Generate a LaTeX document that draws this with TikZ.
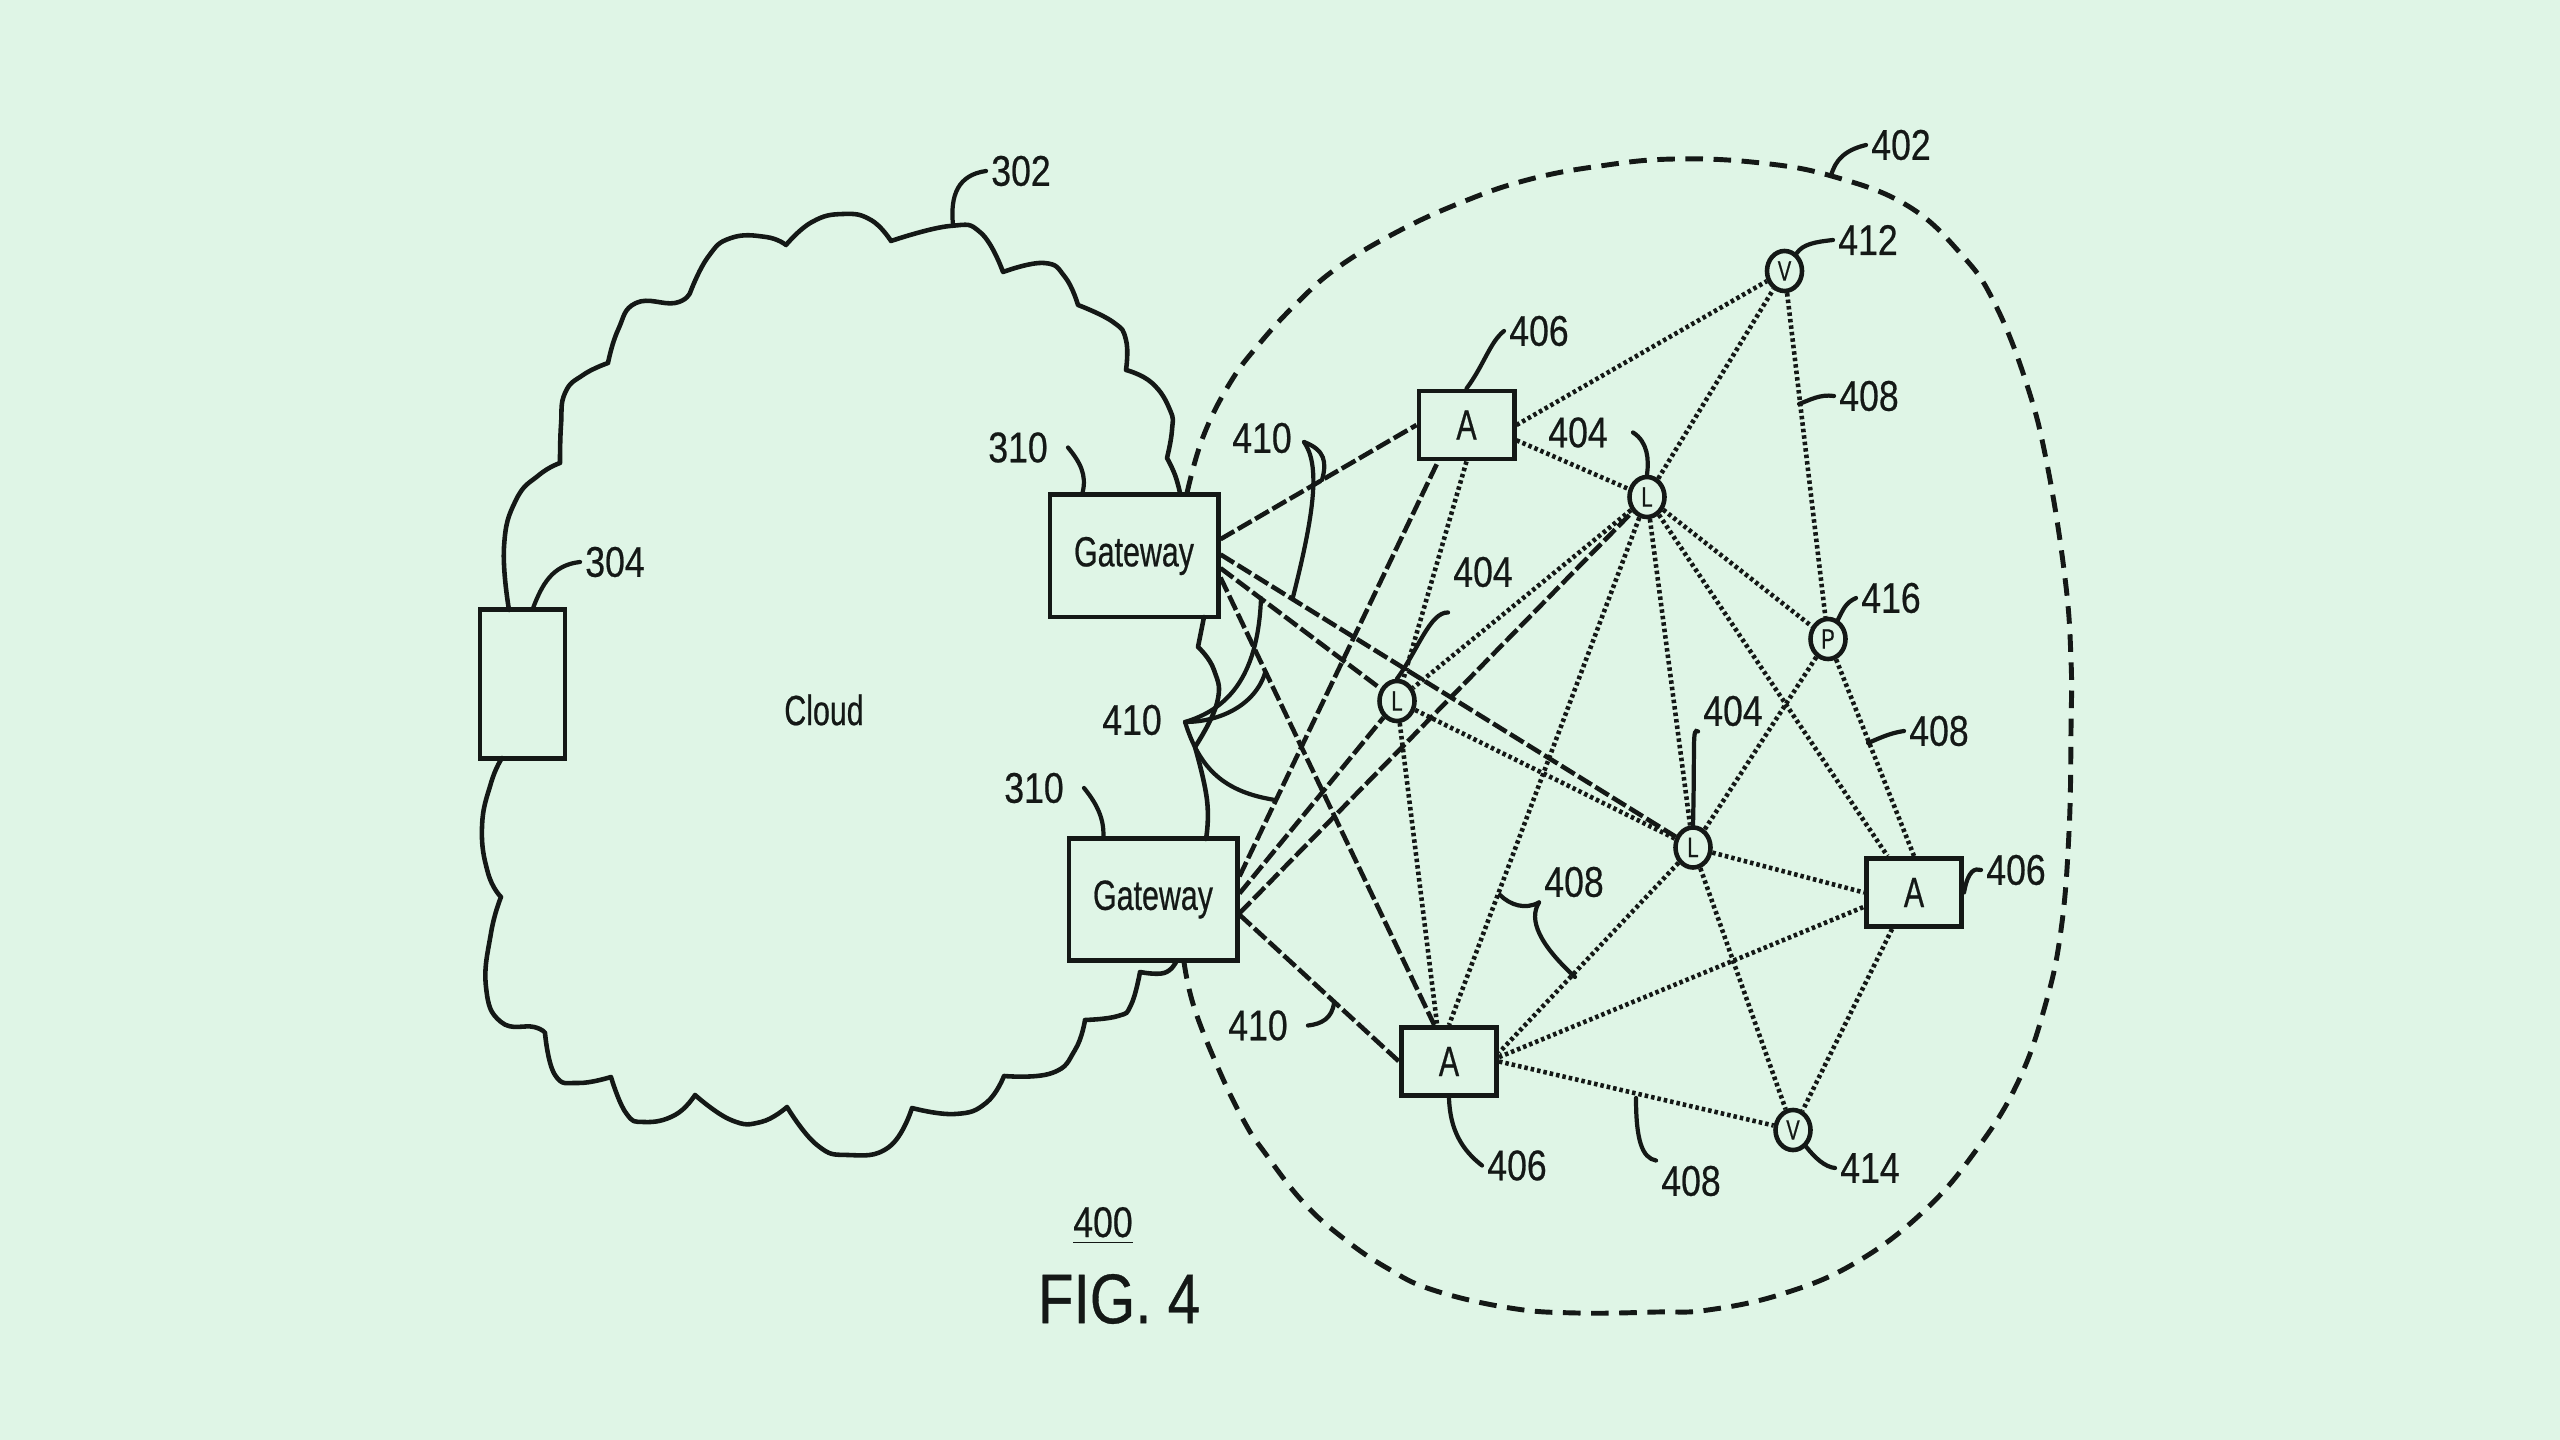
\documentclass[tikz,border=0pt]{standalone}
\usepackage{fontspec}
\setmainfont[FakeStretch=0.83, FakeBold=0.5]{Liberation Sans}
\newfontfamily\narrowfont[FakeStretch=0.72, FakeBold=0.5]{Liberation Sans}
\usetikzlibrary{shapes.geometric}
\definecolor{paper}{RGB}{223,245,230}
\definecolor{ink}{RGB}{20,24,22}
\tikzstyle{box}=[draw=ink, line width=1.4pt, inner sep=0, text=ink, font=\narrowfont\fontsize{12}{14}\selectfont]
\tikzstyle{gateway}=[box, minimum width=1.68cm, minimum height=1.22cm]
\tikzstyle{access}=[box, minimum width=0.95cm, minimum height=0.68cm]
\tikzstyle{device}=[box, minimum width=0.85cm, minimum height=1.48cm]
\tikzstyle{station}=[draw=ink, ellipse, line width=1.3pt, inner sep=0, minimum width=0.35cm, minimum height=0.4cm, text=ink, font=\narrowfont\fontsize{8}{9}\selectfont]
\tikzstyle{ref}=[inner sep=0, outer sep=1.5pt, text=ink, font=\fontsize{12.2}{14}\selectfont]
\tikzstyle{uplink}=[draw=ink, line width=1.3pt, dash pattern=on 4.5pt off 1.2pt]
\tikzstyle{mesh}=[draw=ink, line width=1.3pt, dash pattern=on 1pt off 0.85pt]
\tikzstyle{leader}=[draw=ink, line width=1.2pt, line cap=round]
\tikzstyle{cloud outline}=[draw=ink, line width=1.3pt, line cap=round, line join=round]
\tikzstyle{zone}=[draw=ink, line width=1.4pt, dash pattern=on 5pt off 3pt]

\begin{document}
\begin{tikzpicture}[x=0.01cm, y=-0.01cm]
      \fill[paper] (0,0) rectangle (2560,1440);
      \useasboundingbox (0,0) rectangle (2560,1440);

      % boxes and stations
      \node[device] (device) at (522.5, 684) {};
      \node[gateway] (gateway_top) at (1134, 556) {Gateway};
      \node[gateway] (gateway_bottom) at (1153, 899.5) {Gateway};
      \node[access] (access_top) at (1466.5, 425) {A};
      \node[access] (access_bottom) at (1449, 1061.5) {A};
      \node[access] (access_right) at (1914, 892.5) {A};
      \node[station] (leaf_top) at (1647, 497) {L};
      \node[station] (leaf_left) at (1397, 701) {L};
      \node[station] (leaf_right) at (1693, 847.5) {L};
      \node[station] (voice_top) at (1784.5, 271) {V};
      \node[station] (voice_bottom) at (1793, 1130) {V};
      \node[station] (power) at (1828, 639) {P};

      % cloud
      \node[box, draw=none] (cloud) at (824, 710) {Cloud};
      \draw[cloud outline] plot[smooth, tension=0.8] coordinates {(509,610) (504,547) (516,500) (539,475) (560,463)}
        plot[smooth, tension=0.8] coordinates {(560,463) (561,425) (565,393) (583,375) (608,363)}
        plot[smooth, tension=0.8] coordinates {(608,363) (618,330) (636,303) (675,303) (690,293)}
        plot[smooth, tension=0.8] coordinates {(690,293) (708,257) (731,238) (766,237) (786,245)}
        plot[smooth, tension=0.8] coordinates {(786,245) (812,222) (843,214) (871,220) (891,241)}
        plot[smooth, tension=0.8] coordinates {(891,241) (950,226) (981,233) (1003,272)}
        plot[smooth, tension=0.8] coordinates {(1003,272) (1044,263) (1065,277) (1078,305)}
        plot[smooth, tension=0.8] coordinates {(1078,305) (1113,322) (1126,340) (1126,370)}
        plot[smooth, tension=0.8] coordinates {(1126,370) (1152,383) (1170,410) (1172,430) (1167,458)}
        plot[smooth, tension=0.8] coordinates {(1167,458) (1175,475) (1180,493)};
      \draw[cloud outline] plot[smooth, tension=0.8] coordinates {(1204,617) (1198,647)}
        plot[smooth, tension=0.8] coordinates {(1198,647) (1214,670) (1217,703) (1195,747)}
        plot[smooth, tension=0.8] coordinates {(1195,747) (1207,800) (1206,839)};
      \draw[cloud outline] plot[smooth, tension=0.8] coordinates {(1176,962) (1164,973) (1140,972)}
        plot[smooth, tension=0.8] coordinates {(1140,972) (1131,1005) (1118,1016) (1085,1020)}
        plot[smooth, tension=0.8] coordinates {(1085,1020) (1075,1050) (1052,1073) (1004,1076)}
        plot[smooth, tension=0.8] coordinates {(1004,1076) (986,1103) (955,1114) (912,1108)}
        plot[smooth, tension=0.8] coordinates {(912,1108) (889,1147) (848,1155) (817,1145) (787,1107)}
        plot[smooth, tension=0.8] coordinates {(787,1107) (761,1122) (731,1120) (695,1095)}
        plot[smooth, tension=0.8] coordinates {(695,1095) (675,1115) (644,1122) (626,1113) (611,1077)}
        plot[smooth, tension=0.8] coordinates {(611,1077) (578,1083) (555,1075) (545,1033)}
        plot[smooth, tension=0.8] coordinates {(545,1033) (534,1027) (501,1022) (486,987) (491,933) (501,897)}
        plot[smooth, tension=0.8] coordinates {(501,897) (488,873) (482,827) (491,783) (502,758)};

      % zone
      \draw[zone] plot[smooth, tension=0.7] coordinates {(1187,493) (1203,437) (1230,383) (1260,343) (1297,303) (1337,268) (1395,233) (1460,203) (1527,180) (1600,166) (1675,159) (1761,163) (1835,177) (1908,206) (1961,254) (1994,302) (2026,382) (2047,464) (2065,578) (2071,660) (2071,729) (2069,832) (2061,930) (2045,1006) (2018,1082) (1977,1149) (1924,1211) (1855,1263) (1782,1294) (1708,1310) (1657,1312) (1577,1313) (1510,1308) (1433,1290) (1387,1268) (1343,1238) (1303,1202) (1265,1153) (1245,1123) (1219,1070) (1194,1007) (1184,962)};

      % gateway links
      \draw[uplink] (gateway_top.11) to (access_top.west);
      \draw[uplink] (gateway_top.1) to (leaf_right);
      \draw[uplink] (gateway_top.-8) to (leaf_left);
      \draw[uplink] (gateway_top.-14) to (access_bottom.112);
      \draw[uplink] (gateway_bottom.15) to (access_top.232);
      \draw[uplink] (gateway_bottom.4) to (leaf_left);
      \draw[uplink] (gateway_bottom.-9) to (leaf_top);
      \draw[uplink] (gateway_bottom.-10) to (access_bottom.west);

      % mesh links
      \draw[mesh] (access_top.east) to (voice_top);
      \draw[mesh] (access_top.-17) to (leaf_top);
      \draw[mesh] (access_top.south) to (leaf_left);
      \draw[mesh] (leaf_left) to (access_bottom.108);
      \draw[mesh] (leaf_top) to (leaf_left);
      \draw[mesh] (leaf_top) to (access_bottom.north);
      \draw[mesh] (leaf_top) to (leaf_right);
      \draw[mesh] (leaf_top) to (access_right.126);
      \draw[mesh] (leaf_top) to (power);
      \draw[mesh] (leaf_top) to (voice_top);
      \draw[mesh] (voice_top) to (power);
      \draw[mesh] (power) to (leaf_right);
      \draw[mesh] (power) to (access_right.north);
      \draw[mesh] (leaf_left) to (leaf_right);
      \draw[mesh] (leaf_right) to (access_right.west);
      \draw[mesh] (leaf_right) to (access_bottom.10);
      \draw[mesh] (leaf_right) to (voice_bottom);
      \draw[mesh] (access_right.239) to (voice_bottom);
      \draw[mesh] (access_bottom.5) to (access_right.196);
      \draw[mesh] (access_bottom.east) to (voice_bottom);

      % reference numerals
      \node[ref] (ref_cloud) at (1021, 171) {302};
      \node[ref] (ref_device) at (615, 562) {304};
      \node[ref] (ref_gateway_top) at (1018, 447.5) {310};
      \node[ref] (ref_gateway_bottom) at (1034, 788) {310};
      \node[ref] (ref_uplink_a) at (1262, 438) {410};
      \node[ref] (ref_uplink_b) at (1132, 720) {410};
      \node[ref] (ref_uplink_c) at (1258, 1025.5) {410};
      \node[ref] (ref_leaf_top) at (1578, 432.5) {404};
      \node[ref] (ref_leaf_left) at (1483, 572) {404};
      \node[ref] (ref_leaf_right) at (1733, 711) {404};
      \node[ref] (ref_access_top) at (1539, 331) {406};
      \node[ref] (ref_access_right) at (2016, 870) {406};
      \node[ref] (ref_access_bottom) at (1517, 1165.5) {406};
      \node[ref] (ref_mesh_a) at (1869, 396) {408};
      \node[ref] (ref_mesh_b) at (1939, 731) {408};
      \node[ref] (ref_mesh_c) at (1574, 882) {408};
      \node[ref] (ref_mesh_d) at (1691, 1181) {408};
      \node[ref] (ref_zone) at (1901, 145) {402};
      \node[ref] (ref_voice_top) at (1868, 240) {412};
      \node[ref] (ref_voice_bottom) at (1870, 1168) {414};
      \node[ref] (ref_power) at (1891, 598) {416};
      \node[ref, anchor=base] (ref_system) at (1103, 1237) {\underline{400}};
      \node[ref, font=\fontsize{20}{24}\selectfont] (fig_title) at (1119, 1299) {FIG. 4};

      % free ends of the leaders
      \coordinate (on_cloud) at (953, 225);
      \coordinate (on_zone) at (1831, 176);
      \coordinate (on_link_a1) at (1322, 480);
      \coordinate (on_link_a2) at (1293, 597);
      \coordinate (on_link_b1) at (1261, 598);
      \coordinate (on_link_b2) at (1265, 673);
      \coordinate (on_link_b3) at (1275, 800);
      \coordinate (on_link_c) at (1334, 1003);
      \coordinate (on_mesh_a) at (1799, 404);
      \coordinate (on_mesh_b) at (1868, 743);
      \coordinate (on_mesh_c1) at (1500, 895);
      \coordinate (on_mesh_c2) at (1575, 977);
      \coordinate (on_mesh_d) at (1636, 1098);
      \coordinate (start_a) at (1304, 442);
      \coordinate (start_b) at (1185, 722);

      % leaders
      \draw[leader] (ref_cloud.west) .. controls (958,175) and (950,195) .. (on_cloud);
      \draw[leader] (ref_device.west) .. controls (552,565) and (542,585) .. (device.82);
      \draw[leader] ([xshift=0.15cm]ref_gateway_top.east) .. controls (1080,462) and (1087,475) .. (gateway_top.129);
      \draw[leader] ([xshift=0.15cm]ref_gateway_bottom.east) .. controls (1098,805) and (1104,820) .. (gateway_bottom.128);
      \draw[leader] (start_a) .. controls (1325,450) and (1327,462) .. (on_link_a1);
      \draw[leader] (start_a) .. controls (1320,465) and (1315,510) .. (on_link_a2);
      \draw[leader] (start_b) .. controls (1225,710) and (1258,680) .. (on_link_b1);
      \draw[leader] (start_b) .. controls (1220,722) and (1255,705) .. (on_link_b2);
      \draw[leader] (start_b) .. controls (1200,770) and (1225,792) .. (on_link_b3);
      \draw[leader] ([xshift=0.15cm]ref_uplink_c.east) .. controls (1322,1024) and (1332,1018) .. (on_link_c);
      \draw[leader] ([xshift=0.2cm]ref_leaf_top.east) .. controls (1648,442) and (1649,460) .. (leaf_top.north);
      \draw[leader] ([yshift=-0.2cm]ref_leaf_left.south west) .. controls (1430,612) and (1418,650) .. (leaf_left.north);
      \draw[leader] (ref_leaf_right.south west) .. controls (1692,728) and (1695,740) .. (leaf_right.north);
      \draw[leader] (ref_access_top.west) .. controls (1490,342) and (1484,365) .. (access_top.north);
      \draw[leader] (ref_access_right.west) .. controls (1975,868) and (1968,870) .. (access_right.east);
      \draw[leader] (access_bottom.south) .. controls (1450,1130) and (1462,1150) .. (ref_access_bottom.west);
      \draw[leader] (ref_mesh_a.west) .. controls (1820,394) and (1810,400) .. (on_mesh_a);
      \draw[leader] (ref_mesh_b.west) .. controls (1890,733) and (1880,738) .. (on_mesh_b);
      \draw[leader] (ref_mesh_c.south west) .. controls (1525,910) and (1510,905) .. (on_mesh_c1);
      \draw[leader] (ref_mesh_c.south west) .. controls (1528,920) and (1540,945) .. (on_mesh_c2);
      \draw[leader] (on_mesh_d) .. controls (1636,1140) and (1642,1158) .. (ref_mesh_d.north west);
      \draw[leader] (ref_voice_top.west) .. controls (1815,242) and (1803,244) .. (voice_top);
      \draw[leader] (ref_power.west) .. controls (1845,603) and (1843,610) .. (power);
      \draw[leader] (voice_bottom) .. controls (1815,1158) and (1825,1167) .. (ref_voice_bottom.west);
      \draw[leader] (on_zone) .. controls (1835,160) and (1845,150) .. (ref_zone.west);
    \end{tikzpicture}
\end{document}
